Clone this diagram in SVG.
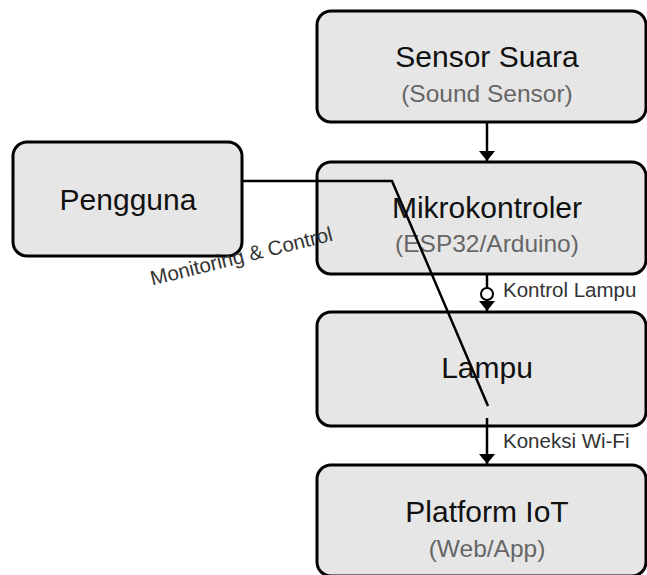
<svg xmlns="http://www.w3.org/2000/svg" width="647" height="575" viewBox="0 0 647 575">
  <style>
    .box { fill: #e6e6e6; stroke: #000; stroke-width: 3; }
    .title { font-family: "Liberation Sans", Arial, sans-serif; font-size: 30px; fill: #111; text-anchor: middle; }
    .sub { font-family: "Liberation Sans", Arial, sans-serif; font-size: 24.5px; fill: #666; text-anchor: middle; }
    .lbl { font-family: "Liberation Sans", Arial, sans-serif; font-size: 20.5px; fill: #333; }
    .wire { fill: none; stroke: #000; stroke-width: 2.5; }
  </style>
  <defs>
    <marker id="head" viewBox="0 0 10 16" refX="10" refY="8" markerWidth="10" markerHeight="16" markerUnits="userSpaceOnUse" orient="auto">
      <path d="M0,0 L10,8 L0,16 Z" fill="#000"/>
    </marker>
  </defs>
  <rect width="647" height="575" fill="#fff"/>

  <g id="sensor-suara">
    <rect class="box" x="317" y="11" width="329" height="111" rx="14"/>
    <text class="title" x="487" y="67">Sensor Suara</text>
    <text class="sub" x="487" y="102">(Sound Sensor)</text>
  </g>

  <g id="mikrokontroler">
    <rect class="box" x="317" y="162" width="329" height="112" rx="14"/>
    <text class="title" x="487" y="218">Mikrokontroler</text>
    <text class="sub" x="487" y="252">(ESP32/Arduino)</text>
  </g>

  <g id="pengguna">
    <rect class="box" x="13" y="142" width="229" height="114" rx="14"/>
    <text class="title" x="128" y="210">Pengguna</text>
  </g>

  <g id="lampu">
    <rect class="box" x="317" y="312" width="329" height="114" rx="14"/>
    <text class="title" x="487" y="378">Lampu</text>
  </g>

  <g id="platform-iot">
    <rect class="box" x="317" y="465" width="329" height="111" rx="14"/>
    <text class="title" x="487" y="522">Platform IoT</text>
    <text class="sub" x="487" y="557">(Web/App)</text>
  </g>

  <g id="connectors">
    <line class="wire" x1="487" y1="122" x2="487" y2="161" marker-end="url(#head)"/>
    <line class="wire" x1="487" y1="274" x2="487" y2="288"/>
    <circle cx="487" cy="294" r="6" fill="#fff" stroke="#000" stroke-width="2"/>
    <line class="wire" x1="487" y1="300" x2="487" y2="311" marker-end="url(#head)"/>
    <text class="lbl" x="503" y="297">Kontrol Lampu</text>
    <polyline class="wire" points="242,181 392,181 488,406"/>
    <text class="lbl" transform="rotate(-14 243 263)" x="243" y="263" text-anchor="middle">Monitoring &amp; Control</text>
    <line class="wire" x1="487" y1="418" x2="487" y2="464" marker-end="url(#head)"/>
    <text class="lbl" x="503" y="448">Koneksi Wi-Fi</text>
  </g>
</svg>
